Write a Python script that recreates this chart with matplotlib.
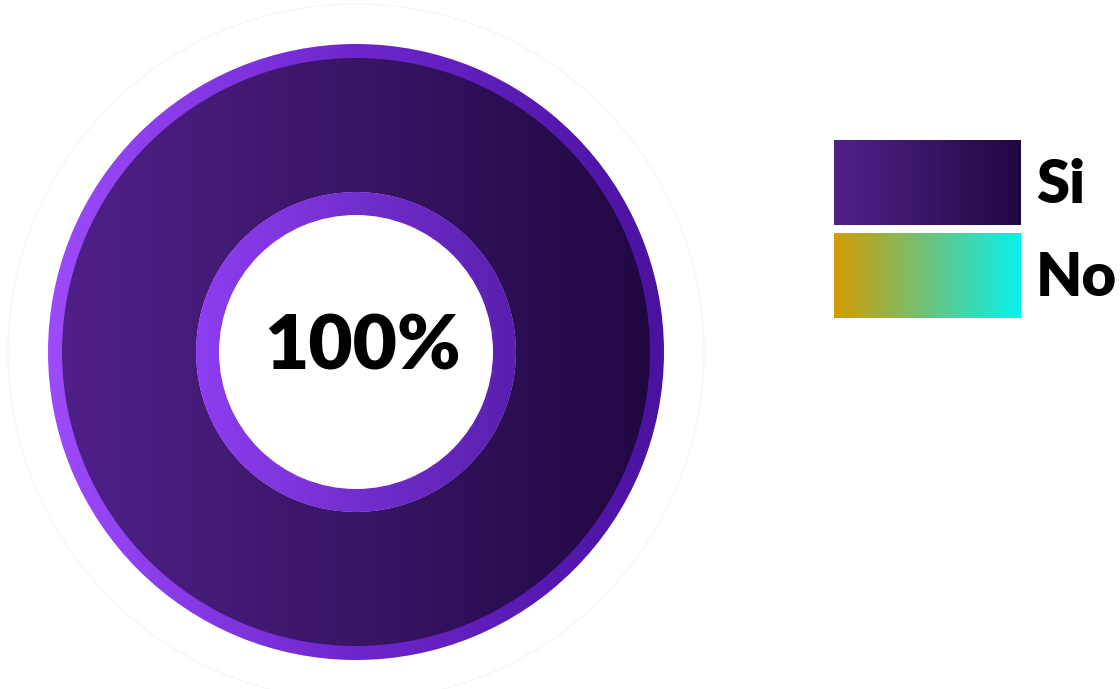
import numpy as np
import matplotlib
matplotlib.use("Agg")
import matplotlib.pyplot as plt
from matplotlib.colors import LinearSegmentedColormap
from matplotlib.patches import Wedge, Circle, Rectangle

# Survey answers (percent)
categories = ["Si", "No"]
values = [100, 0]
center_label = "100%"

W, H = 1120, 689
fig = plt.figure(figsize=(W / 100, H / 100), dpi=100)
ax = fig.add_axes([0, 0, 1, 1])
ax.set_xlim(0, W)
ax.set_ylim(H, 0)
ax.set_aspect("equal")
ax.axis("off")

si_cmap = LinearSegmentedColormap.from_list("si", ["#50218a", "#3a1566", "#1f0740"])
no_cmap = LinearSegmentedColormap.from_list("no", ["#d39c00", "#6cc27c", "#08f2ee"])
rim_cmap = LinearSegmentedColormap.from_list("rim", ["#9d4bfb", "#6d26cc", "#4912a0"])
inner_cmap = LinearSegmentedColormap.from_list("inner", ["#8d3ef0", "#5a1fae"])
grad = np.linspace(0, 1, 256)[None, :]

cx, cy = 356, 352
r_out, rim, r_hole_ring, ring_w = 308, 14, 160, 23


def gradient_fill(patch, cmap, x0, x1, y0, y1):
    ax.add_patch(patch)
    im = ax.imshow(grad, cmap=cmap, extent=(x0, x1, y1, y0), aspect="auto",
                   interpolation="bilinear", zorder=patch.get_zorder())
    im.set_clip_path(patch)


# faint halo circle
ax.add_patch(Circle((cx, cy), 348, fill=False, ec="#f6f5f8", lw=1.0, zorder=1))

# donut slices from the values
cmaps = [si_cmap, no_cmap]
total = sum(values)
start = 90
for val, cmap in zip(values, cmaps):
    if val <= 0:
        continue
    sweep = 360 * val / total
    # bright rim
    rim_w = Wedge((cx, cy), r_out, start - sweep, start, width=r_out - r_hole_ring,
                  fc="none", ec="none", zorder=2)
    gradient_fill(rim_w, rim_cmap, cx - r_out, cx + r_out, cy - r_out, cy + r_out)
    body = Wedge((cx, cy), r_out - rim, start - sweep, start,
                 width=r_out - rim - r_hole_ring, fc="none", ec="none", zorder=3)
    gradient_fill(body, cmap, cx - r_out, cx + r_out, cy - r_out, cy + r_out)
    start -= sweep

# inner ring around the hole
ring = Wedge((cx, cy), r_hole_ring, 0, 360, width=ring_w, fc="none", ec="none", zorder=4)
gradient_fill(ring, inner_cmap, cx - r_hole_ring, cx + r_hole_ring,
              cy - r_hole_ring, cy + r_hole_ring)

ax.text(cx + 6, cy - 4, center_label, ha="center", va="center", fontsize=55,
        fontweight="heavy", family="Lato", color="black", zorder=6)

# legend
lx0, lx1 = 834, 1021
rows = [(140, 225), (233, 318)]
for (y0, y1), cat, cmap in zip(rows, categories, cmaps):
    r = Rectangle((lx0, y0), lx1 - lx0, y1 - y0, fc="none", ec="none", zorder=2)
    gradient_fill(r, cmap, lx0, lx1, y0, y1)
    ax.text(1036, (y0 + y1) / 2 + 3, cat, ha="left", va="center", fontsize=43,
            fontweight="heavy", family="Lato", color="black", zorder=6)

fig.savefig("out.png", dpi=100, facecolor="white")
